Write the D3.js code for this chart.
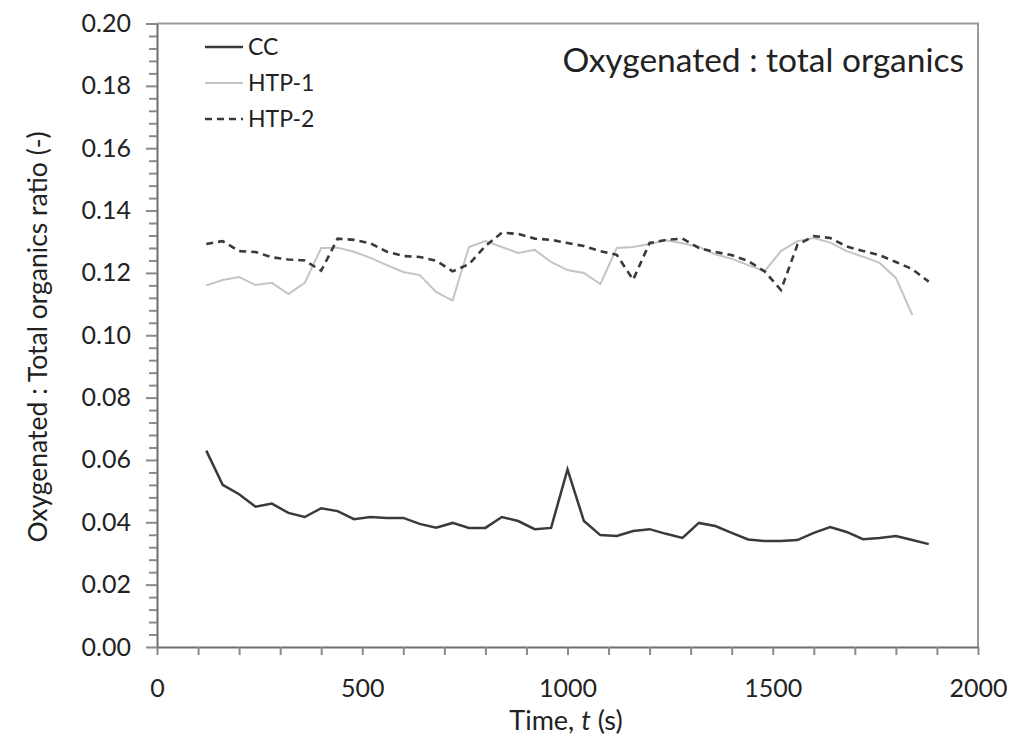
<!DOCTYPE html>
<html><head><meta charset="utf-8">
<script src="https://cdn.jsdelivr.net/npm/d3@7"></script>
<style>body{margin:0;background:#fff}svg{display:block}text{font-family:Lato,"Open Sans",sans-serif;fill:#222}</style>
</head><body>
<script>
const timesCC = d3.range(120, 1881, 40);
const ccValues = [0.063,0.052,0.049,0.045,0.046,0.043,0.0417,0.0445,0.0436,0.041,0.0417,0.0414,0.0414,0.0395,0.0383,0.0398,0.0382,0.0382,0.0417,0.0404,0.0378,0.0382,0.057,0.0404,0.0359,0.0356,0.0372,0.0378,0.0363,0.035,0.0398,0.0388,0.0366,0.0345,0.034,0.034,0.0343,0.0366,0.0385,0.0369,0.0346,0.035,0.0356,0.0343,0.033];
const timesHTP1 = d3.range(120, 1841, 40);
const htp1Values = [0.116,0.1177,0.1187,0.1161,0.1168,0.1132,0.1168,0.128,0.1281,0.1268,0.1248,0.1225,0.1203,0.1193,0.1139,0.1111,0.1283,0.1302,0.1283,0.1264,0.1274,0.1235,0.1209,0.120,0.1164,0.128,0.1283,0.1293,0.1305,0.1295,0.1283,0.126,0.1245,0.1225,0.1205,0.127,0.1302,0.1312,0.1297,0.127,0.1252,0.1232,0.1184,0.1065];
const timesHTP2 = d3.range(120, 1881, 40);
const htp2Values = [0.1293,0.1302,0.127,0.1267,0.125,0.1243,0.124,0.1207,0.131,0.1306,0.1295,0.1268,0.1254,0.1251,0.1239,0.1205,0.1228,0.1286,0.1329,0.1325,0.131,0.1306,0.1296,0.1286,0.127,0.1258,0.1178,0.1296,0.1306,0.131,0.128,0.1267,0.1257,0.1238,0.1205,0.1145,0.129,0.1318,0.1312,0.1285,0.127,0.1257,0.1235,0.1212,0.1172];
const seriesNames = ["CC","HTP-1","HTP-2"];
const xTicks = d3.range(0, 2001, 100);
const xTickLabels = ["0","500","1000","1500","2000"];
const yTickLabels = ["0.00","0.02","0.04","0.06","0.08","0.10","0.12","0.14","0.16","0.18","0.20"];

const W = 1015, H = 745;
const svg = d3.select("body").append("svg").attr("width", W).attr("height", H);
const x = d3.scaleLinear([0, 2000], [157, 978]);
const y = d3.scaleLinear([0, 0.2], [647, 23.5]);

// frame top/right
svg.append("path").attr("d", `M${x(0)},${y(0.2)}H${x(2000)}V${y(0)}`).attr("fill","none").attr("stroke","#9a9a9a").attr("stroke-width",2);

// x axis
const xa = svg.append("g").attr("transform", `translate(0,${y(0)})`)
  .call(d3.axisBottom(x).tickValues(xTicks).tickSize(8).tickSizeOuter(0)
    .tickFormat(d => d % 500 === 0 ? xTickLabels[d / 500] : ""));
xa.select(".domain").attr("stroke","#6e6e6e").attr("stroke-width",2);
xa.selectAll(".tick line").attr("stroke","#8a8a8a").attr("stroke-width",2);
xa.selectAll(".tick text").attr("font-size",25).attr("y",41).attr("dy","0.35em").attr("fill","#222");

// y axis
const yMinor = d3.range(0, 51).map(i => i * 0.004);
const ya = svg.append("g").attr("transform", `translate(${x(0)},0)`)
  .call(d3.axisLeft(y).tickValues(yMinor).tickSize(8).tickSizeOuter(0)
    .tickFormat((d, i) => i % 5 === 0 ? yTickLabels[i / 5] : ""));
ya.select(".domain").attr("stroke","#6e6e6e").attr("stroke-width",2);
ya.selectAll(".tick line").attr("stroke","#8a8a8a").attr("stroke-width",2)
  .attr("x2", (d, i) => i % 5 === 0 ? -11 : -8);
ya.selectAll(".tick text").attr("font-size",25).attr("x",-26).attr("fill","#222");

// lines
const line = d3.line().x(d => x(d[0])).y(d => y(d[1]));
const cc = timesCC.map((t, i) => [t, ccValues[i]]);
const h1 = timesHTP1.map((t, i) => [t, htp1Values[i]]);
const h2 = timesHTP2.map((t, i) => [t, htp2Values[i]]);
svg.append("path").datum(h1).attr("d", line).attr("fill","none").attr("stroke","#c4c4c4").attr("stroke-width",2);
svg.append("path").datum(h2).attr("d", line).attr("fill","none").attr("stroke","#3a3a3a").attr("stroke-width",2.6).attr("stroke-dasharray","7,5");
svg.append("path").datum(cc).attr("d", line).attr("fill","none").attr("stroke","#3a3a3a").attr("stroke-width",2.5);

// legend
const leg = [{n: seriesNames[0], c:"#3a3a3a", w:2.5, d:null, y:47},
             {n: seriesNames[1], c:"#c4c4c4", w:2, d:null, y:83},
             {n: seriesNames[2], c:"#3a3a3a", w:2.5, d:"7,5", y:119}];
leg.forEach(l => {
  svg.append("line").attr("x1",205).attr("x2",243).attr("y1",l.y).attr("y2",l.y)
    .attr("stroke",l.c).attr("stroke-width",l.w).attr("stroke-dasharray",l.d);
  svg.append("text").attr("x",248).attr("y",l.y).attr("dy","0.35em").attr("font-size",23).text(l.n);
});

// annotation
svg.append("text").attr("x",964).attr("y",60).attr("dy","0.35em").attr("text-anchor","end").attr("font-size",33.5).text("Oxygenated : total organics");

// axis titles
const xt = svg.append("text").attr("x",566).attr("y",721).attr("dy","0.35em").attr("text-anchor","middle").attr("font-size",27);
xt.append("tspan").text("Time, ");
xt.append("tspan").attr("font-style","italic").text("t");
xt.append("tspan").text(" (s)");
svg.append("text").attr("transform","translate(38,337) rotate(-90)").attr("dy","0.35em").attr("text-anchor","middle").attr("font-size",26.5).text("Oxygenated : Total organics ratio (-)");
</script>
</body></html>
